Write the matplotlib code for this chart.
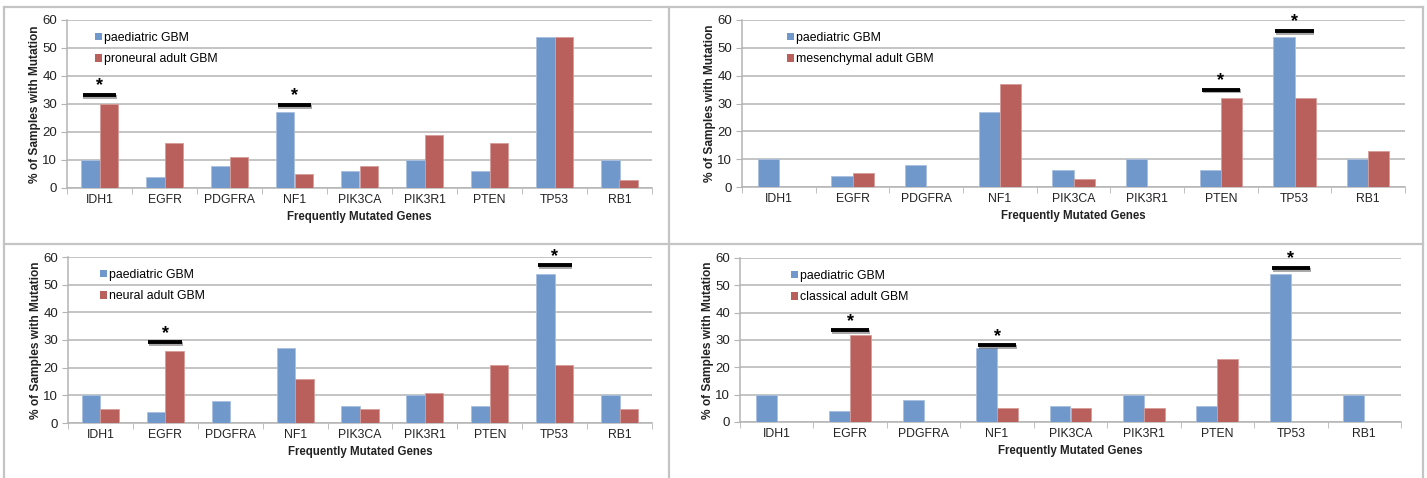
import matplotlib
matplotlib.use("Agg")
import matplotlib.pyplot as plt
import matplotlib.patheffects as pe
from matplotlib.patches import Patch
from matplotlib.lines import Line2D
import numpy as np

genes = ["IDH1", "EGFR", "PDGFRA", "NF1", "PIK3CA", "PIK3R1", "PTEN", "TP53", "RB1"]
paediatric = [10, 4, 8, 27, 6, 10, 6, 54, 10]
proneural = [30, 16, 11, 5, 8, 19, 16, 54, 3]
mesenchymal = [0, 5, 0, 37, 3, 0, 32, 32, 13]
neural = [5, 26, 0, 16, 5, 11, 21, 21, 5]
classical = [0, 32, 0, 5, 5, 5, 23, 0, 0]

labels_adult = ["proneural adult GBM", "mesenchymal adult GBM",
                "neural adult GBM", "classical adult GBM"]
adult_series = [proneural, mesenchymal, neural, classical]
# significance markers: (gene index, bar height)
sig_marks = [
    [(0, 33.2), (3, 29.6)],
    [(6, 35.0), (7, 56.0)],
    [(1, 29.2), (7, 57.0)],
    [(1, 33.6), (3, 28.0), (7, 56.4)],
]
yticks = [0, 10, 20, 30, 40, 50, 60]

W, H = 1427, 478
DPI = 100
fig = plt.figure(figsize=(W / DPI, H / DPI), dpi=DPI)
fig.patch.set_facecolor("white")

# axes boxes in pixels: left, right, top(60), bottom(0)
boxes = [
    (67, 652, 20, 188),
    (742, 1405, 20, 187),
    (68, 652, 257, 423),
    (740, 1401, 258, 422),
]
legend_offsets = [(28, 12), (45, 12), (32, 12), (51, 12)]

BLUE = "#7198CA"
RED = "#B9605C"
GRID = "#B4B4B4"
REG = ["Liberation Sans", "DejaVu Sans"]

bw = 0.2857
x = np.arange(len(genes))

for i, (l, r, t, b) in enumerate(boxes):
    ax = fig.add_axes([l / W, (H - b) / H, (r - l) / W, (b - t) / H])
    ax.set_facecolor("none")
    ax.bar(x - bw / 2, paediatric, width=bw, color=BLUE, edgecolor="#A9C0E0",
           linewidth=0.6, zorder=3, label="paediatric GBM")
    ax.bar(x + bw / 2, adult_series[i], width=bw, color=RED, edgecolor="#D69C98",
           linewidth=0.6, zorder=3, label=labels_adult[i])
    ax.set_xlim(-0.5, len(genes) - 0.5)
    ax.set_ylim(0, 60)
    ax.set_yticks(yticks)
    ax.set_yticklabels([str(v) for v in yticks], family=REG, fontsize=9.5, color="#222222")
    ax.yaxis.grid(True, color=GRID, linewidth=1.1, zorder=0)
    ax.set_axisbelow(True)
    for s in ["top", "right"]:
        ax.spines[s].set_visible(False)
    ax.spines["left"].set_color(GRID)
    ax.spines["bottom"].set_color(GRID)
    ax.spines["left"].set_linewidth(1.1)
    ax.spines["bottom"].set_linewidth(1.1)
    ax.tick_params(axis="y", length=4, color=GRID, pad=3)
    # x: labels at centers, ticks at boundaries
    ax.set_xticks(x)
    ax.set_xticklabels(genes, family=REG, fontsize=8.8, color="#222222")
    ax.tick_params(axis="x", length=0, pad=4)
    ax.set_xticks(np.arange(len(genes) + 1) - 0.5, minor=True)
    ax.tick_params(axis="x", which="minor", length=4, color=GRID)
    ax.set_xlabel("Frequently Mutated Genes", family=REG, fontsize=8.3,
                  fontweight="bold", color="#222222", labelpad=4)
    ax.set_ylabel("% of Samples with Mutation", family=REG, fontsize=8.6,
                  fontweight="bold", color="#222222")
    ax.yaxis.set_label_coords(-26 / (r - l), 0.5)
    # legend
    ox, oy = legend_offsets[i]
    handles = [Patch(facecolor=BLUE, edgecolor="none"),
               Patch(facecolor=RED, edgecolor="none")]
    ax.legend(handles, ["paediatric GBM", labels_adult[i]], loc="upper left",
              bbox_to_anchor=(ox / (r - l), 1 - oy / (b - t)), frameon=False,
              borderpad=0, borderaxespad=0, handlelength=0.55, handleheight=0.55,
              handletextpad=0.15, labelspacing=0.75,
              prop={"family": REG, "size": 8.8})
    # significance bars
    for gi, hv in sig_marks[i]:
        ax.plot([gi - 0.26, gi + 0.26], [hv, hv], color="black", linewidth=2.8,
                solid_capstyle="butt", zorder=5, clip_on=False,
                path_effects=[pe.SimpleLineShadow(offset=(0.6, -1.2), alpha=0.35),
                              pe.Normal()])
        ax.text(gi, hv + 0.2, "*", ha="center", va="bottom", fontsize=13,
                fontweight="bold", family=REG, zorder=6)

# panel borders
bc = "#C4C4C4"
def fline(xs, ys):
    fig.add_artist(Line2D([v / W for v in xs], [(H - v) / H for v in ys],
                          color=bc, linewidth=1.6, transform=fig.transFigure))
fline([4, 1423], [7, 7])
fline([4, 1423], [244, 244])
fline([4, 4], [7, 478])
fline([669, 669], [7, 478])
fline([1423, 1423], [7, 478])

fig.savefig("out.png", dpi=DPI, facecolor="white")
